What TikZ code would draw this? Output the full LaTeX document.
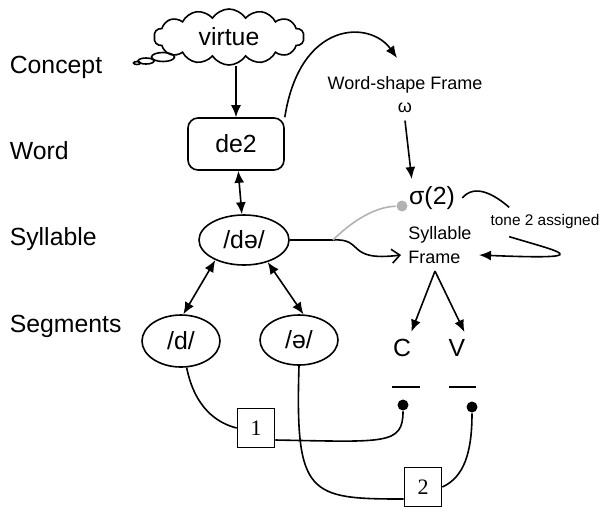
\documentclass[tikz,border=0pt]{standalone}
\usepackage{fontspec}
\setmainfont{Liberation Sans}
\newfontfamily\numfont{Liberation Serif}
\usetikzlibrary{arrows.meta,shapes.geometric,shapes.symbols}

\begin{document}
\begin{tikzpicture}[x=0.5pt,y=-0.5pt,line width=0.8pt,
   >={Latex[length=6pt,width=5pt]},
   every node/.style={font=\fontsize{12.4}{14}\selectfont},
   level/.style={anchor=base west,inner sep=0pt},
   seg/.style={draw,ellipse,inner sep=0pt,minimum width=39pt,minimum height=26pt},
   frame/.style={font=\fontsize{9}{11.5}\selectfont,align=center},
   numbox/.style={draw,inner sep=0pt,minimum width=18.5pt,minimum height=19.5pt,
      font=\numfont\fontsize{11}{12}\selectfont},
   bdot/.style={circle,fill,inner sep=0pt,minimum size=5.5pt},
   gdot/.style={circle,fill=gray!60,inner sep=0pt,minimum size=5.5pt}]
   \useasboundingbox (0,0) rectangle (611,511);
   % levels
   \node[level] (concept)  at (9,73)  {Concept};
   \node[level] (word)     at (9,159) {Word};
   \node[level] (syllable) at (9,245) {Syllable};
   \node[level] (segments) at (9,332) {Segments};
   % concept and word
   \node[cloud,draw,cloud puffs=14,cloud puff arc=115,cloud ignores aspect,
      minimum width=75pt,minimum height=28pt,inner sep=0pt] (cloud) at (229,37) {virtue};
   \draw (163,57) ellipse [x radius=11.5,y radius=4.5];
   \draw (146,61) ellipse [x radius=8,y radius=3];
   \draw (137,63) ellipse [x radius=3.5,y radius=1.5];
   \node[draw,rounded corners=5pt,minimum width=48pt,minimum height=26pt] (de2) at (236,144) {de2};
   % frames
   \node[frame] (wsf) at (405,95) {Word-shape Frame\\ω};
   \node (sigma) at (432,198) {σ(2)};
   \node[gdot] (gdot) at (402,206) {};
   \node[frame,align=left,font=\fontsize{9}{12}\selectfont] (sf) at (440,245) {Syllable\\Frame};
   \node[font=\fontsize{7.7}{9}\selectfont] (tone) at (545,222) {tone 2 assigned};
   % syllable and segments
   \node[seg,minimum width=45pt,minimum height=25pt] (dschwa) at (244,240) {/də/};
   \node[seg] (dd) at (181,341) {/d/};
   \node[seg,minimum height=25pt] (schwa) at (299,340) {/ə/};
   \node (cC) at (402,348) {C};
   \node (cV) at (457,348) {V};
   \draw[line width=0.6pt] (392,387) -- (420,387);
   \draw[line width=0.6pt] (449,387) -- (476,387);
   \node[bdot] (dotC) at (403,405) {};
   \node[bdot] (dotV) at (472,407) {};
   \node[numbox] (box1) at (256,428) {1};
   \node[numbox] (box2) at (423,487) {2};
   \coordinate (junct) at (333,240);

   \path[->]
    (de2 |- cloud.south) edge (de2)
    (de2) edge[<->] (dschwa)
    (dschwa.215) edge[<->] (dd.85)
    (dschwa.-43) edge[<->] (schwa.80)
    (wsf.south) edge ([xshift=5pt]sigma.north west)
    ([xshift=-2.5pt]sf.south) edge (cC.60)
    ([xshift=-2.5pt]sf.south) edge (cV.65);
   \draw[->] (de2.north east) .. controls (300,20) and (370,20) .. (397,58);
   \draw[-{Straight Barb[length=4pt,width=7pt]}] (dschwa.east) -- (junct)
      .. controls (365,238) and (345,262) .. ([yshift=-5pt]sf.west);
   \draw[gray!60] (junct) .. controls (345,228) and (370,207) .. (gdot);
   \draw (sigma.east) .. controls (475,183) and (495,195) .. ([xshift=13pt]tone.north west);
   \draw[->] ([xshift=13pt]tone.south west) .. controls (560,252) and (600,260) .. ([yshift=-5pt]sf.east);
   % links to slots
   \draw (dd.-78) .. controls +(8,40) and +(-20,-5) .. (box1.west);
   \draw ([yshift=-6pt]box1.east) .. controls +(110,2) and +(0,40) .. (dotC);
   \draw (schwa.south) .. controls +(-4,130) and +(-95,0) .. ([yshift=-6pt]box2.west);
   \draw (box2.east) .. controls +(22,-10) and +(0,45) .. (dotV);
\end{tikzpicture}
\end{document}
